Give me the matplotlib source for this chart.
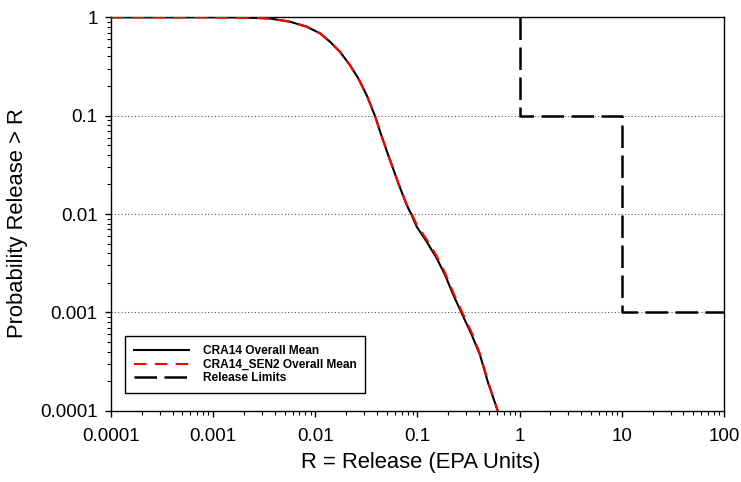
import matplotlib
matplotlib.use("Agg")
import matplotlib.pyplot as plt

plt.rcParams['font.family'] = ['Liberation Sans', 'DejaVu Sans']

# CCDF
release = [1e-4, 0.001, 0.002, 0.0036, 0.00565, 0.00822, 0.0111, 0.0139, 0.0174,
           0.0218, 0.0263, 0.0318, 0.0384, 0.0447, 0.0538, 0.0649, 0.0783, 0.0877,
           0.0982, 0.123, 0.154, 0.186, 0.224, 0.271, 0.340, 0.409, 0.493, 0.610]
prob_cra14 = [1.0, 1.0, 0.995, 0.972, 0.902, 0.803, 0.688, 0.565, 0.447,
              0.327, 0.240, 0.162, 0.0993, 0.0612, 0.0355, 0.0206, 0.01237, 0.0098,
              0.00745, 0.00524, 0.00356, 0.00241, 0.00151, 0.00098, 0.00059, 0.00037, 0.00019, 1e-4]
prob_sen2 = [1.0, 1.0, 0.995, 0.972, 0.902, 0.803, 0.688, 0.565, 0.447,
             0.327, 0.240, 0.162, 0.0993, 0.0612, 0.0355, 0.0206, 0.0126, 0.0101,
             0.0078, 0.0055, 0.00375, 0.00253, 0.00159, 0.00103, 0.00062, 0.00038, 0.000195, 1e-4]

limit_x = [1, 1, 10, 10, 100]
limit_y = [1, 0.1, 0.1, 0.001, 0.001]

x_ticks = [1e-4, 1e-3, 1e-2, 1e-1, 1, 10, 100]
x_labels = ['0.0001', '0.001', '0.01', '0.1', '1', '10', '100']
y_ticks = [1e-4, 1e-3, 1e-2, 1e-1, 1]
y_labels = ['0.0001', '0.001', '0.01', '0.1', '1']

fig = plt.figure(figsize=(7.41, 4.82), dpi=100)
ax = fig.add_axes([0.1498, 0.1477, 0.8272, 0.8164])

for g in [0.1, 0.01, 0.001]:
    ax.axhline(g, color='#555555', linestyle=(0, (1, 2)), linewidth=0.8, zorder=1)

ax.plot(release, prob_cra14, color='black', linewidth=1.5, label='CRA14 Overall Mean', zorder=3)
ax.plot(release, prob_sen2, color='red', linewidth=1.5, linestyle=(0, (6, 4)),
        label='CRA14_SEN2 Overall Mean', zorder=4)
ax.plot(limit_x, limit_y, color='black', linewidth=1.8, linestyle=(0, (9, 3)),
        label='Release Limits', zorder=2)

ax.set_xscale('log')
ax.set_yscale('log')
ax.set_xlim(1e-4, 100)
ax.set_ylim(1e-4, 1)
ax.set_xticks(x_ticks)
ax.set_xticklabels(x_labels)
ax.set_yticks(y_ticks)
ax.set_yticklabels(y_labels)
ax.tick_params(which='major', direction='out', length=4.5, width=1, labelsize=13.5, top=False, right=False)
ax.tick_params(which='minor', direction='out', length=3, width=0.8, top=False, right=False)
ax.tick_params(axis='x', which='major', pad=8)
ax.tick_params(axis='y', which='major', pad=5)
for s in ax.spines.values():
    s.set_linewidth(1.0)

ax.set_xlabel('R = Release (EPA Units)', fontsize=15.8, labelpad=6)
ax.set_ylabel('Probability Release > R', fontsize=15.8)
ax.xaxis.set_label_coords(0.506, -0.105)
ax.yaxis.set_label_coords(-0.135, 0.478)

leg = ax.legend(loc='lower left', bbox_to_anchor=(0.023, 0.045), prop={'weight': 'bold', 'size': 8.6},
                fancybox=False, edgecolor='black', framealpha=1, handlelength=4.6,
                borderpad=0.75, labelspacing=0.12, handletextpad=1.15, borderaxespad=0)
leg.get_frame().set_linewidth(1.0)

fig.savefig('out.png', dpi=100)
